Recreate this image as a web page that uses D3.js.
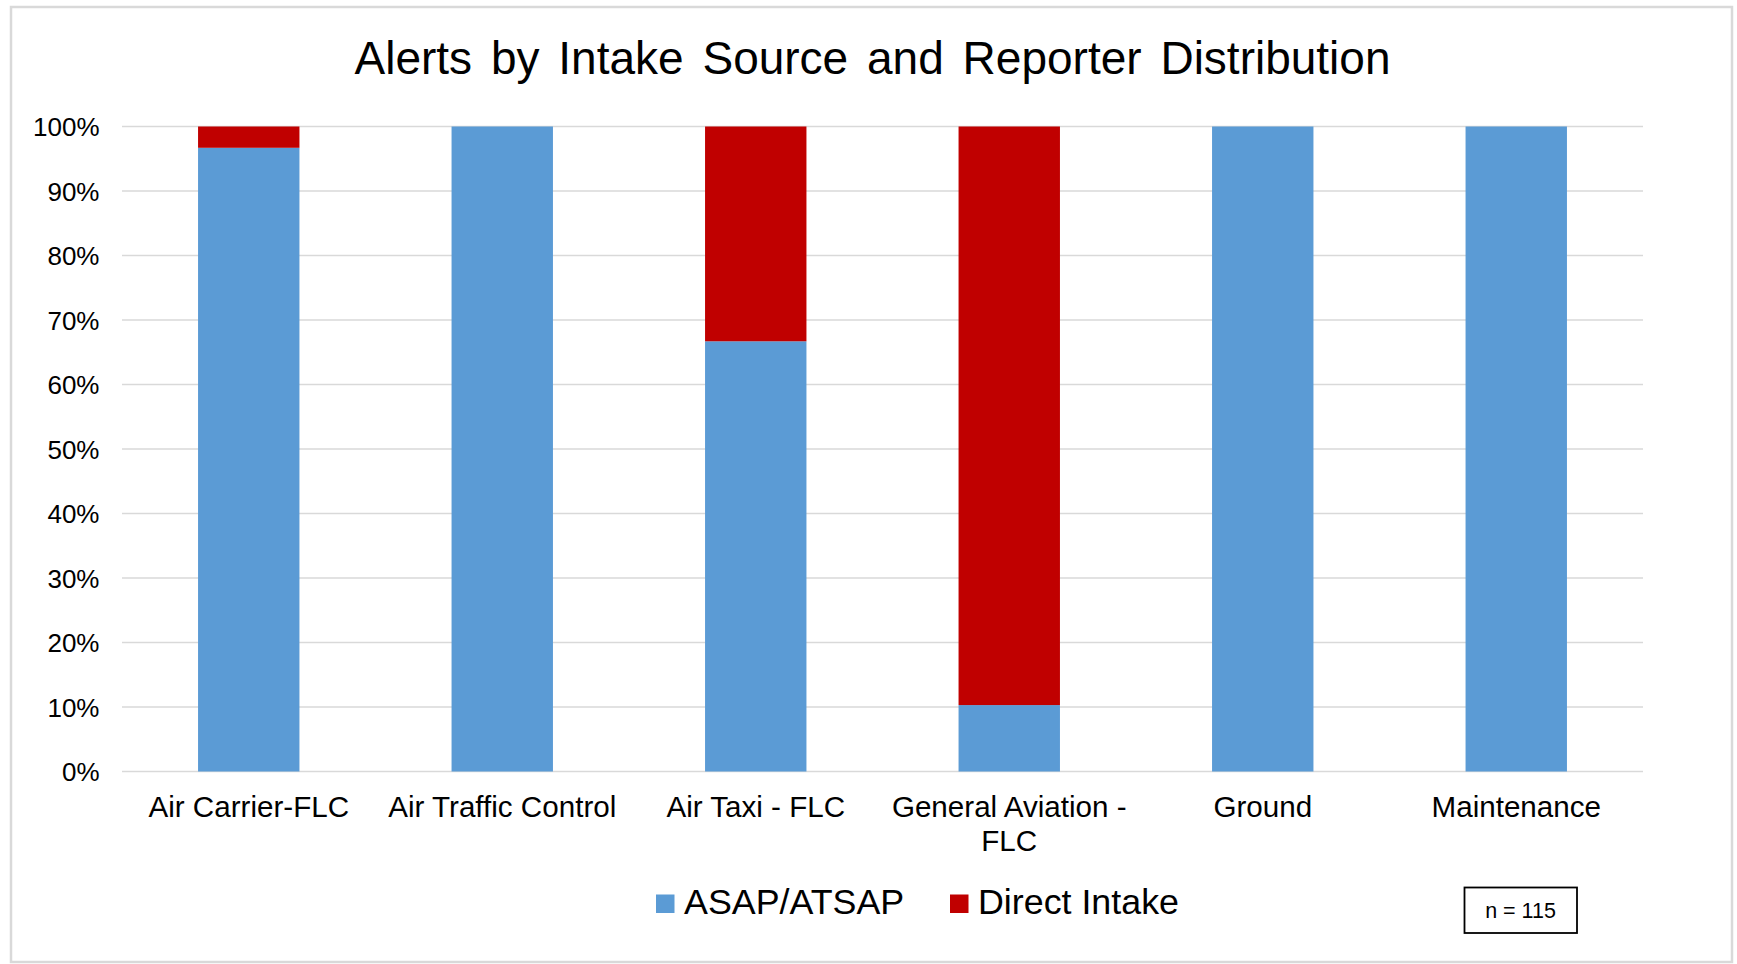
<!DOCTYPE html>
<html>
<head>
<meta charset="utf-8">
<script src="https://cdn.jsdelivr.net/npm/d3@7"></script>
<style>
  html, body { margin: 0; padding: 0; background: #fff; }
  svg { display: block; font-family: "Liberation Sans", Arial, sans-serif; }
</style>
</head>
<body>
<svg id="chart" width="1737" height="964"></svg>
<script>
// ---- data ----
const categories = ["Air Carrier-FLC", "Air Traffic Control", "Air Taxi - FLC", "General Aviation - FLC", "Ground", "Maintenance"];
const categoryLines = [["Air Carrier-FLC"], ["Air Traffic Control"], ["Air Taxi - FLC"], ["General Aviation -", "FLC"], ["Ground"], ["Maintenance"]];
const seriesNames = ["ASAP/ATSAP", "Direct Intake"];
const asapValues = [0.967, 1.0, 0.667, 0.103, 1.0, 1.0];
const directValues = [0.033, 0.0, 0.333, 0.897, 0.0, 0.0];
const yTicks = [0, 0.1, 0.2, 0.3, 0.4, 0.5, 0.6, 0.7, 0.8, 0.9, 1.0];
const titleText = "Alerts by Intake Source and Reporter Distribution";
const noteText = "n = 115";

const colors = ["#5B9BD5", "#C00000"];

const svg = d3.select("#chart");

// outer border
svg.append("rect")
  .attr("x", 11).attr("y", 7).attr("width", 1721).attr("height", 955)
  .attr("fill", "#fff").attr("stroke", "#d9d9d9").attr("stroke-width", 2.5);

const plotLeft = 122, plotRight = 1643, plotTop = 126.5, plotBottom = 771.5;

const x = d3.scaleBand().domain(categories).range([plotLeft, plotRight]).paddingInner(0.6).paddingOuter(0.3);
const y = d3.scaleLinear().domain([0, 1]).range([plotBottom, plotTop]);

// gridlines
svg.append("g").selectAll("line").data(yTicks).join("line")
  .attr("x1", plotLeft).attr("x2", plotRight)
  .attr("y1", d => y(d)).attr("y2", d => y(d))
  .attr("stroke", "#d9d9d9").attr("stroke-width", 1.5);

// y axis labels
const yAxis = d3.axisLeft(y).tickValues(yTicks).tickFormat(d3.format(".0%")).tickSize(0).tickPadding(0);
const yg = svg.append("g").attr("transform", `translate(99.5,0)`).call(yAxis);
yg.select(".domain").remove();
yg.selectAll("text")
  .attr("font-family", "Liberation Sans, Arial, sans-serif")
  .attr("font-size", 26).attr("fill", "#000").attr("dy", "0.35em");

// stacked data
const table = categories.map((c, i) => ({ cat: c, "ASAP/ATSAP": asapValues[i], "Direct Intake": directValues[i] }));
const stack = d3.stack().keys(seriesNames)(table);

svg.append("g").selectAll("g").data(stack).join("g")
  .attr("fill", (d, i) => colors[i])
  .selectAll("rect").data(d => d).join("rect")
  .attr("x", d => x(d.data.cat))
  .attr("width", x.bandwidth())
  .attr("y", d => y(d[1]))
  .attr("height", d => Math.max(0, y(d[0]) - y(d[1])));

// x labels
const xl = svg.append("g");
categories.forEach((c, i) => {
  const t = xl.append("text")
    .attr("x", x(c) + x.bandwidth() / 2)
    .attr("y", 816.5)
    .attr("text-anchor", "middle")
    .attr("font-size", 29.6)
    .attr("fill", "#000");
  categoryLines[i].forEach((ln, j) => {
    t.append("tspan").attr("x", x(c) + x.bandwidth() / 2).attr("dy", j === 0 ? 0 : 34).text(ln);
  });
});

// title
const title = svg.append("text")
  .attr("x", 872.5).attr("y", 73.5)
  .attr("text-anchor", "middle")
  .attr("font-size", 46)
  .attr("fill", "#000")
  .text(titleText);
const tl = title.node().getComputedTextLength();
const spaces = titleText.split(" ").length - 1;
title.attr("word-spacing", ((1036 - tl) / spaces).toFixed(2));

// legend
const legendX = [656, 950];
const lg = svg.append("g");
seriesNames.forEach((s, i) => {
  lg.append("rect").attr("x", legendX[i]).attr("y", 894.5).attr("width", 18.5).attr("height", 18.5).attr("fill", colors[i]);
  lg.append("text").attr("x", legendX[i] + 28).attr("y", 914.3)
    .attr("font-size", 35.8).attr("fill", "#000").text(s);
});

// n box
svg.append("rect").attr("x", 1464.5).attr("y", 887.5).attr("width", 112.5).attr("height", 45.5)
  .attr("fill", "#fff").attr("stroke", "#000").attr("stroke-width", 1.8);
svg.append("text").attr("x", 1520.5).attr("y", 918.3).attr("text-anchor", "middle")
  .attr("font-size", 21.5).attr("fill", "#000").text(noteText);
</script>
</body>
</html>
